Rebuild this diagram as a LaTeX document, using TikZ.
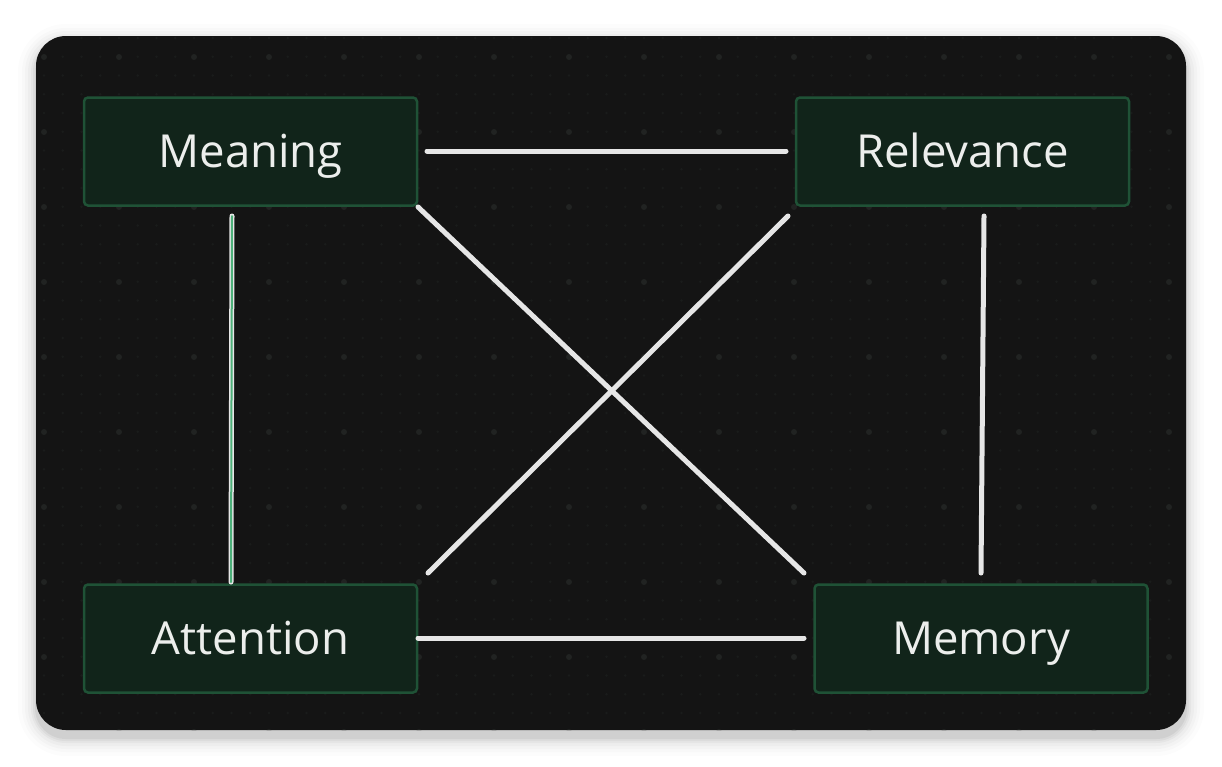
\documentclass[tikz,border=0pt]{standalone}
\usepackage{fontspec}
\setmainfont{Open Sans}
\definecolor{panelbg}{HTML}{141414}
\definecolor{boxfill}{HTML}{11241A}
\definecolor{boxline}{HTML}{1F5236}
\definecolor{txt}{HTML}{ECEEEC}
\definecolor{edge}{HTML}{E6E6E6}
\definecolor{edgegreen}{HTML}{4DB07A}
\definecolor{majordot}{HTML}{212322}
\definecolor{minordot}{HTML}{1A1C1B}
\begin{document}
\begin{tikzpicture}[x=1pt,y=-1pt,
  conceptbox/.style={draw=boxline, line width=2.5pt, fill=boxfill, rounded corners=4pt,
    minimum width=333pt, minimum height=108pt, inner sep=0pt,
    text height=32pt, text depth=0pt,
    text=txt, font=\fontsize{45.5}{50}\selectfont},
  link/.style={draw=edge, line width=5pt, line cap=round},
  linkgreen/.style={draw=edgegreen, line width=2pt, line cap=round}]
\useasboundingbox (0,0) rectangle (1222,766);
\fill[white] (0,0) rectangle (1222,766);
% shadow
\foreach \i/\o in {18/0.01,14/0.015,11/0.02,8/0.025,5/0.03,3/0.04,1/0.05}{
  \fill[black, opacity=\o, rounded corners=30pt+\i] (36-\i,42-\i) rectangle (1186+\i,738+\i);
}
% panel
\fill[panelbg, rounded corners=30pt] (36,36) rectangle (1186,730);
\begin{scope}
\clip[rounded corners=30pt] (36,36) rectangle (1186,730);
\foreach \x in {0,...,61}{
  \foreach \y in {0,...,37}{
    \fill[minordot] (44+\x*18.75,38+\y*18.75) circle (1.3pt);
  }
}
\foreach \x in {0,...,15}{
  \foreach \y in {0,...,9}{
    \fill[majordot] (44+\x*75,57+\y*75) circle (3pt);
  }
}
\end{scope}
% nodes
\node[conceptbox] (meaning) at (250.5,151.5) {Meaning};
\node[conceptbox] (relevance) at (962.5,151.5) {Relevance};
\node[conceptbox] (attention) at (250.5,638.5) {Attention};
\node[conceptbox] (memory) at (981,638.5) {Memory};
% connection endpoints
\coordinate (mr1) at (427,151);
\coordinate (mr2) at (786,151);
\coordinate (ma1) at (232,216);
\coordinate (ma2) at (231,582);
\coordinate (rm1) at (984,216);
\coordinate (rm2) at (981,573);
\coordinate (md1) at (418,207);
\coordinate (md2) at (804,573);
\coordinate (rd1) at (788,216);
\coordinate (rd2) at (428,573);
\coordinate (am1) at (418,638);
\coordinate (am2) at (804,638);
% edges
\draw[link] (mr1) -- (mr2);
\draw[link] (ma1) -- (ma2);
\draw[linkgreen] (ma1) -- (ma2);
\draw[link] (rm1) -- (rm2);
\draw[link] (md1) -- (md2);
\draw[link] (rd1) -- (rd2);
\draw[link] (am1) -- (am2);
\end{tikzpicture}
\end{document}
